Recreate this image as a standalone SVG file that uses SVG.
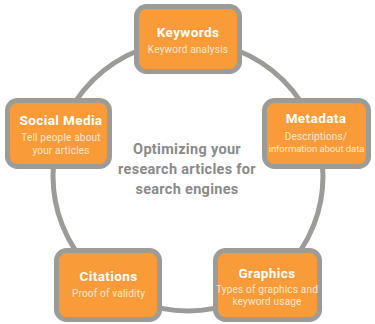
<svg xmlns="http://www.w3.org/2000/svg" width="375" height="324" viewBox="0 0 375 324">
<style>
.box{fill:#F99B38;stroke:#9B9B98;stroke-width:5}
.t{font-family:Roboto,"Liberation Sans",sans-serif;font-weight:bold;font-size:13.5px;letter-spacing:0.4px;fill:#ffffff;text-anchor:middle}
.s{font-family:Roboto,"Liberation Sans",sans-serif;font-size:10px;letter-spacing:0.2px;fill:#FDE8D2;text-anchor:middle}
.c{font-family:Roboto,"Liberation Sans",sans-serif;font-weight:bold;font-size:14.5px;letter-spacing:0.3px;fill:#8A8A8A;text-anchor:middle}
</style>
<rect width="375" height="324" fill="#ffffff"/>
<g id="connectors">
<circle cx="188" cy="176" r="135" fill="none" stroke="#9B9B98" stroke-width="5"/>
</g>
<g id="center">
<text class="c" x="187" y="154">Optimizing your</text>
<text class="c" x="187" y="174">research articles for</text>
<text class="c" x="187" y="194">search engines</text>
</g>
<g id="keywords">
<rect class="box" x="136.5" y="6.5" width="103" height="65" rx="10"/>
<text class="t" x="188" y="37">Keywords</text>
<text class="s" x="188" y="53">Keyword analysis</text>
</g>
<g id="metadata">
<rect class="box" x="264.5" y="100.5" width="104" height="66" rx="10"/>
<text class="t" x="316" y="123">Metadata</text>
<text class="s" x="316" y="139.5">Descriptions/</text>
<text class="s" x="316.5" y="152" style="font-size:9.6px;letter-spacing:-0.1px">information about data</text>
</g>
<g id="social">
<rect class="box" x="7.5" y="100.5" width="102" height="66" rx="10"/>
<text class="t" x="61" y="125">Social Media</text>
<text class="s" x="61" y="141">Tell people about</text>
<text class="s" x="61" y="154">your articles</text>
</g>
<g id="citations">
<rect class="box" x="56.5" y="250.5" width="103" height="69" rx="10"/>
<text class="t" x="108.5" y="281">Citations</text>
<text class="s" x="108.5" y="297">Proof of validity</text>
</g>
<g id="graphics">
<rect class="box" x="215.5" y="250.5" width="104" height="69" rx="10"/>
<text class="t" x="267" y="278">Graphics</text>
<text class="s" x="267" y="292.5">Types of graphics and</text>
<text class="s" x="267" y="305">keyword usage</text>
</g>
</svg>
